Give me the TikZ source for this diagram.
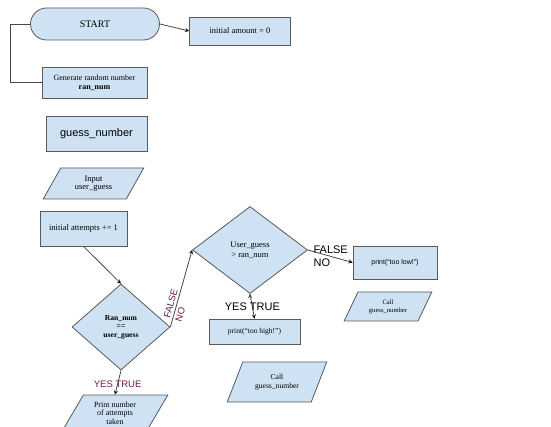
\documentclass[tikz,border=0pt]{standalone}
\usepackage{fontspec}
\setmainfont{Liberation Serif}
\setsansfont{Liberation Sans}
\usepackage{tikz}
\usetikzlibrary{arrows}
\usetikzlibrary{shapes.geometric}
\definecolor{boxfill}{RGB}{207,226,243}
\definecolor{boxline}{RGB}{89,89,89}
\definecolor{wire}{RGB}{70,70,70}
\definecolor{choice}{RGB}{116,27,71}

\begin{document}
\begin{tikzpicture}[x=1pt,y=-1pt,line width=0.8pt,
  every node/.style={inner sep=0pt,align=center},
  box/.style={draw=boxline,fill=boxfill,font=\fontsize{8.5}{9}\selectfont},
  io/.style={box,trapezium,trapezium left angle=58,trapezium right angle=122,trapezium stretches=true},
  decision/.style={box,diamond},
  lbl/.style={font=\sffamily\fontsize{11}{13.5}\selectfont,align=left}]
  \path[use as bounding box,fill=white] (0,0) rectangle (551,427);
  \node[box,rounded corners=16pt,minimum width=129pt,minimum height=32pt,font=\fontsize{10}{12}\selectfont] (start) at (95,24) {START};
  \node[box,minimum width=101pt,minimum height=28pt] (amount) at (240,31) {initial amount = 0};
  \node[box,minimum width=105pt,minimum height=31pt,font=\fontsize{8}{9}\selectfont] (gen) at (94.5,82.5) {Generate random number\\\textbf{ran\_num}};
  \node[box,minimum width=101pt,minimum height=35pt,font=\sffamily\fontsize{11}{13}\selectfont] (guess) at (96.5,133.5) {guess\_number};
  \node[io,minimum width=101pt,minimum height=31pt,font=\fontsize{8.5}{8.5}\selectfont] (input) at (93.5,183.5) {Input\\user\_guess};
  \node[box,minimum width=87pt,minimum height=35pt] (attempts) at (83.5,228.5) {initial attempts += 1};
  \node[decision,minimum width=98pt,minimum height=86pt,font=\bfseries\fontsize{7.6}{8.5}\selectfont] (check) at (121,327) {Ran\_num\\==\\user\_guess};
  \node[io,minimum width=106pt,minimum height=36pt,font=\fontsize{8}{8.5}\selectfont] (printn) at (115,413) {Print number\\of attempts\\taken};
  \node[decision,minimum width=115pt,minimum height=87pt,font=\fontsize{8.5}{10}\selectfont] (higher) at (250,250) {User\_guess\\> ran\_num};
  \node[box,minimum width=84pt,minimum height=33pt,font=\sffamily\fontsize{7}{8}\selectfont] (low) at (395,262.5) {print(“too low!”)};
  \node[io,minimum width=88pt,minimum height=29pt,font=\fontsize{6.6}{8}\selectfont] (callone) at (388,306.5) {Call\\guess\_number};
  \node[box,minimum width=91pt,minimum height=25pt,font=\fontsize{7.5}{8}\selectfont] (high) at (254.5,331.5) {print(“too high!”)};
  \node[io,minimum width=100pt,minimum height=40pt,font=\fontsize{7.6}{9}\selectfont] (calltwo) at (277,382) {Call\\guess\_number};
  \draw[wire] (start.west) -- ++(-20,0) |- (gen.west);
  \path[-stealth,draw=wire]
    (start.east) edge (amount.west)
    (attempts.south) edge (check.north)
    (check.south) edge node[lbl,pos=0.56,text=choice,font=\sffamily\fontsize{9.5}{11.5}\selectfont] {YES TRUE} (printn.north)
    (check.east) edge node[lbl,sloped,pos=0.28,text=choice,font=\sffamily\fontsize{9.5}{12}\selectfont] {FALSE\\NO} (higher.west)
    (higher.east) edge node[lbl,pos=0.51] {FALSE\\NO} (low.west)
    (higher.south) edge node[lbl,pos=0.52] {YES TRUE} (high.north);
\end{tikzpicture}
\end{document}
